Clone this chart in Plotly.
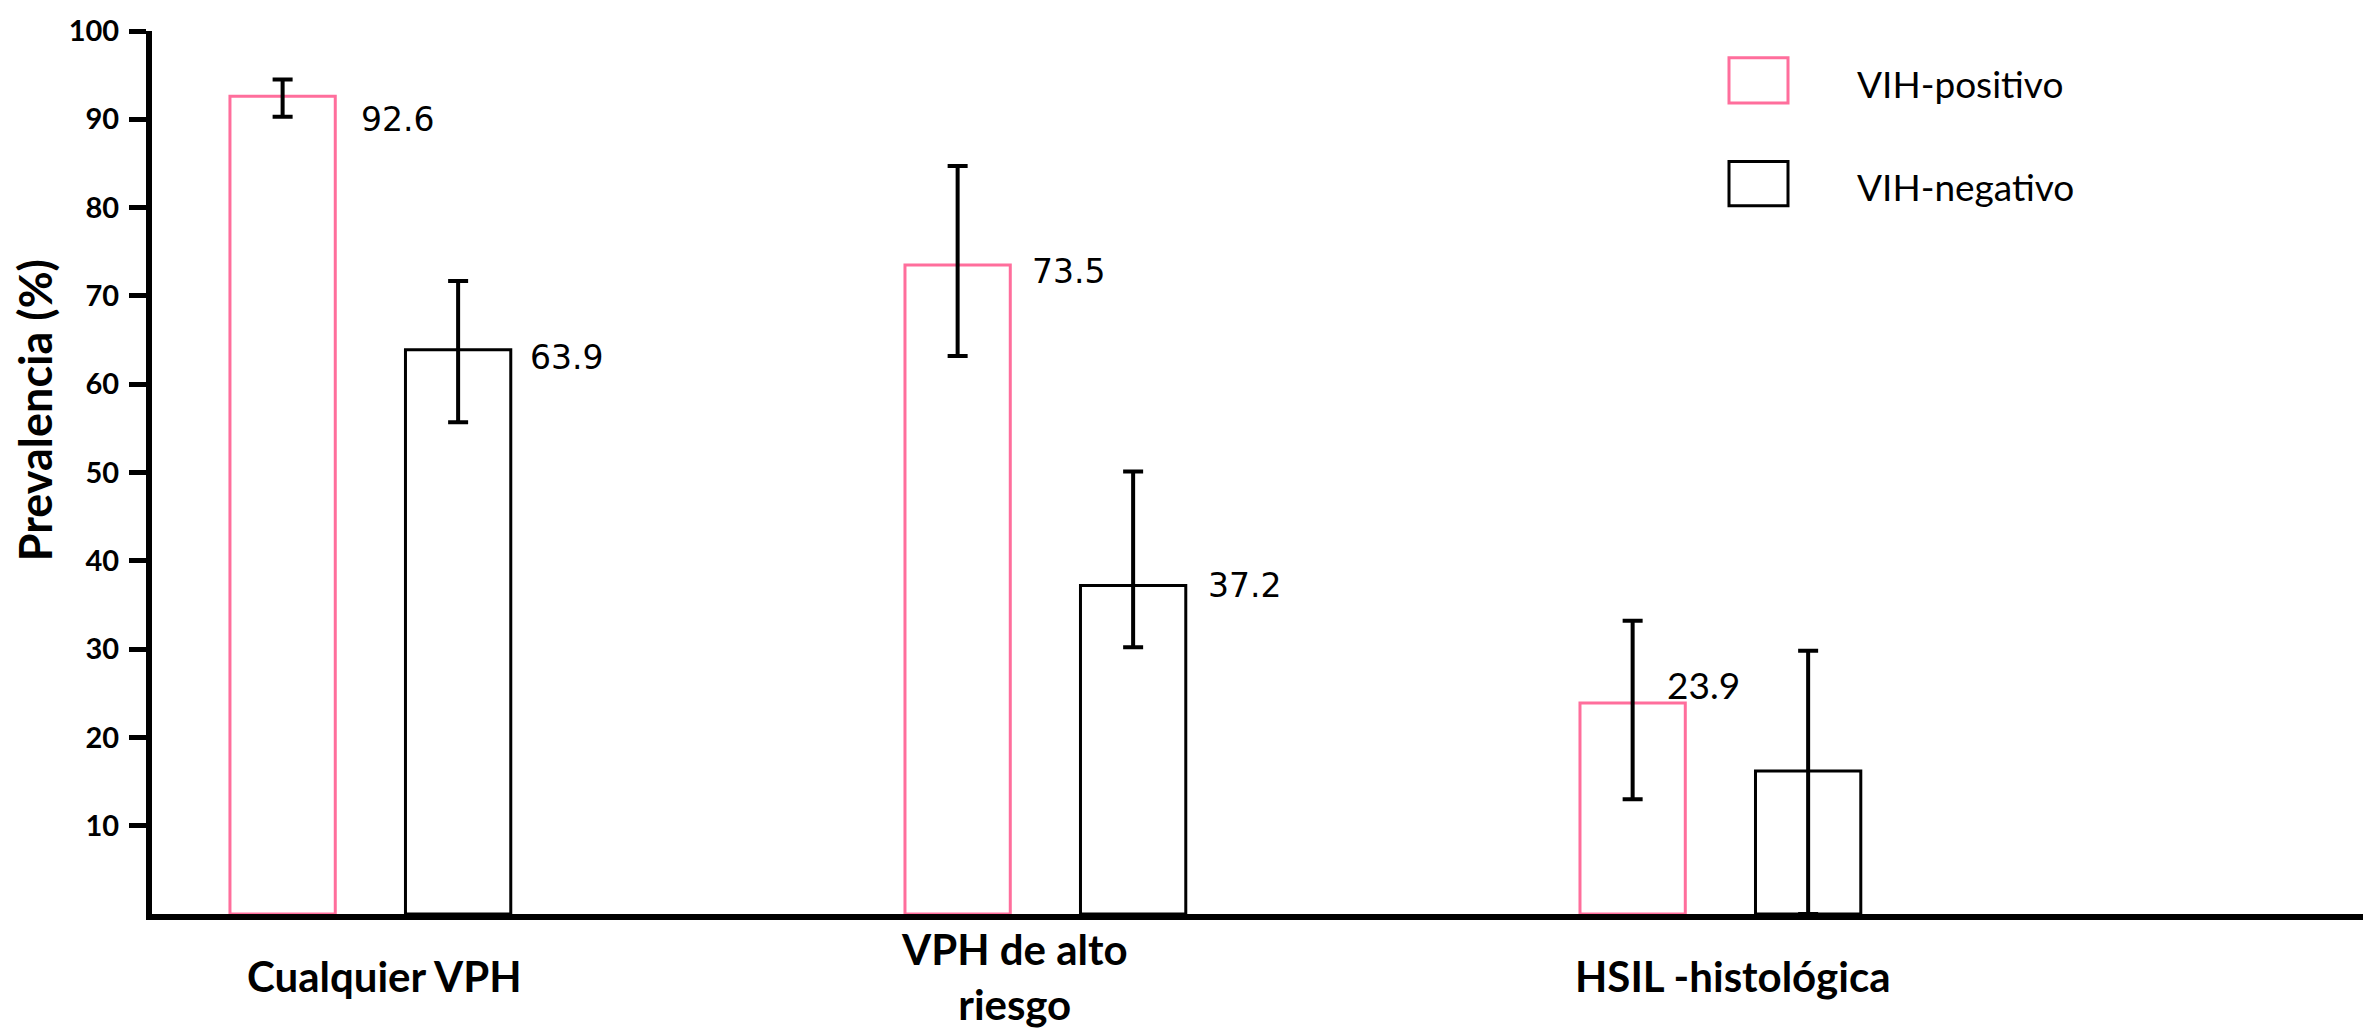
import plotly.graph_objects as go

# ---------------- data ----------------
categories = ["Cualquier VPH", "VPH de alto riesgo", "HSIL -histológica"]
category_labels = ["Cualquier VPH", "VPH de alto<br>riesgo", "HSIL -histológica"]
series_names = ["VIH-positivo", "VIH-negativo"]

pos_values = [92.6, 73.5, 23.9]
pos_upper = [94.5, 84.7, 33.2]
pos_lower = [90.3, 63.2, 13.0]

neg_values = [63.9, 37.2, 16.2]
neg_upper = [71.7, 50.1, 29.8]
neg_lower = [55.7, 30.2, 0.0]

pos_labels = ["92.6", "73.5", "23.9"]
neg_labels = ["63.9", "37.2", None]

y_tick_values = [10, 20, 30, 40, 50, 60, 70, 80, 90, 100]
y_title = "Prevalencia (%)"

# ---------------- style ----------------
W, H = 2380, 1029
ML, MR, MT, MB = 152, 17, 20, 115
PINK = "#FF6E9C"
BLACK = "#000000"
XR = [-0.3235, 2.952]
BARGAP, BARGROUPGAP = 0.48, 0.40

plot_w = W - ML - MR
plot_h = H - MT - MB
px_per_unit = plot_w / (XR[1] - XR[0])
slot = (1 - BARGAP) / 2
center_off = slot / 2 * px_per_unit
half_w = slot * (1 - BARGROUPGAP) / 2 * px_per_unit

fig = go.Figure()

def err(vals, up, lo):
    return dict(type="data", symmetric=False,
                array=[u - v for u, v in zip(up, vals)],
                arrayminus=[v - l for v, l in zip(vals, lo)],
                color=BLACK, thickness=4, width=10)

fig.add_trace(go.Bar(x=categories, y=pos_values, name=series_names[0],
                     marker=dict(color="white", line=dict(color=PINK, width=3)),
                     error_y=err(pos_values, pos_upper, pos_lower)))
fig.add_trace(go.Bar(x=categories, y=neg_values, name=series_names[1],
                     marker=dict(color="white", line=dict(color=BLACK, width=3)),
                     error_y=err(neg_values, neg_upper, neg_lower)))

annotations = []
# value labels: (gap from bar right edge, vertical shift, font, size)
pos_style = [(24, -23, "DejaVu Sans", 33), (20, -6, "DejaVu Sans", 33), (-20, 18, "Lato", 37)]
neg_style = [(17, -8, "DejaVu Sans", 33), (20, 0, "DejaVu Sans", 33), (0, 0, "DejaVu Sans", 33)]
for i, c in enumerate(categories):
    for labels, vals, sty, sign in ((pos_labels, pos_values, pos_style, -1),
                                    (neg_labels, neg_values, neg_style, 1)):
        if labels[i] is None:
            continue
        gap, dy, fam, fs = sty[i]
        annotations.append(dict(
            x=c, y=vals[i], xref="x", yref="y", text=labels[i], showarrow=False,
            xanchor="left", yanchor="middle",
            xshift=sign * center_off + half_w + gap, yshift=dy,
            font=dict(family=fam, size=fs, color=BLACK)))

# category labels
cat_shift = [14, -31, 12]
for c, lab, dx in zip(categories, category_labels, cat_shift):
    annotations.append(dict(
        x=c, y=-63 / plot_h, xref="x", yref="paper",
        text=lab, showarrow=False, xanchor="center", yanchor="middle", xshift=dx,
        font=dict(family="Lato", size=42, color=BLACK, weight="bold")))

# y title
annotations.append(dict(
    x=(35 - ML) / plot_w, y=(H - MB - 404) / plot_h, xref="paper", yref="paper",
    text=y_title, showarrow=False, textangle=-90, xanchor="center", yanchor="middle",
    font=dict(family="Lato", size=45, color=BLACK, weight="bold")))

# custom legend
shapes = []
legend_boxes = [(47, 93, PINK), (152, 197, BLACK)]
legend_text_y = [73, 177]
for name, (t, b, col), ty in zip(series_names, legend_boxes, legend_text_y):
    shapes.append(dict(type="rect", xref="paper", yref="paper",
                       x0=(1729 - ML) / plot_w, x1=(1788 - ML) / plot_w,
                       y0=(H - MB - b) / plot_h, y1=(H - MB - t) / plot_h,
                       line=dict(color=col, width=3), fillcolor="white"))
    annotations.append(dict(
        x=(1855 - ML) / plot_w, y=(H - MB - ty) / plot_h, xref="paper", yref="paper",
        text=name, showarrow=False, xanchor="left", yanchor="middle",
        font=dict(family="Lato", size=37, color=BLACK)))

fig.update_layout(
    width=W, height=H, autosize=False,
    margin=dict(l=ML, r=MR, t=MT, b=MB, pad=0),
    paper_bgcolor="white", plot_bgcolor="white",
    barmode="group", bargap=BARGAP, bargroupgap=BARGROUPGAP,
    showlegend=False,
    annotations=annotations, shapes=shapes,
    xaxis=dict(type="category", range=XR, showline=True, linecolor=BLACK, linewidth=6,
               showticklabels=False, ticks="", showgrid=False, zeroline=False),
    yaxis=dict(range=[0, 100], tickvals=y_tick_values, showline=True, linecolor=BLACK,
               linewidth=6, ticks="outside", ticklen=17, tickwidth=5, tickcolor=BLACK,
               showgrid=False, zeroline=False, ticklabelstandoff=4,
               tickfont=dict(family="Lato", size=29, color=BLACK, weight="bold")),
)

fig.write_html("out.html", config={"displayModeBar": False},
               post_script="document.body.style.margin='0';document.body.style.overflow='hidden';")
